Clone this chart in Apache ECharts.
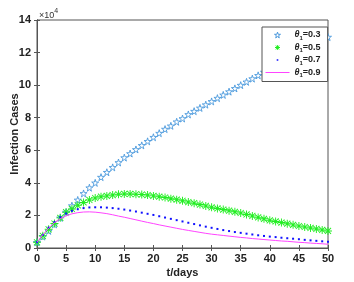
<!DOCTYPE html>
<html><head><meta charset="utf-8">
<script src="https://cdn.jsdelivr.net/npm/echarts@6/dist/echarts.min.js"></script>
<style>html,body{margin:0;padding:0;background:#fff}#c{width:354px;height:282px}</style>
</head><body><div id="c"></div>
<script>
// values in units of 10^4
const days = Array.from({length: 51}, (_, i) => i);
const xTicks = [0,5,10,15,20,25,30,35,40,45,50];
const yTicks = [0,2,4,6,8,10,12,14];
const theta03 = [0.35,0.7,1.05,1.45,1.85,2.2,2.6,2.95,3.35,3.7,4.0,4.35,4.65,4.95,5.25,5.55,5.8,6.05,6.3,6.55,6.8,7.05,7.3,7.5,7.75,7.95,8.2,8.4,8.6,8.8,9.0,9.2,9.4,9.6,9.8,10.0,10.2,10.4,10.6,10.8,11.0,11.2,11.4,11.6,11.8,12.0,12.2,12.4,12.55,12.75,12.95];
const theta05 = [0.35,0.75,1.15,1.5,1.85,2.2,2.4,2.62,2.8,2.95,3.07,3.15,3.2,3.25,3.3,3.32,3.32,3.3,3.28,3.25,3.2,3.15,3.1,3.03,2.97,2.9,2.82,2.75,2.67,2.58,2.5,2.43,2.36,2.29,2.22,2.15,2.06,1.97,1.88,1.79,1.7,1.63,1.56,1.49,1.42,1.35,1.29,1.23,1.17,1.11,1.05];
const theta07 = [0.35,0.8,1.25,1.6,1.9,2.12,2.28,2.38,2.45,2.49,2.5,2.5,2.48,2.45,2.41,2.36,2.3,2.24,2.17,2.1,2.03,1.95,1.87,1.79,1.71,1.63,1.55,1.47,1.39,1.31,1.24,1.17,1.1,1.04,0.98,0.93,0.88,0.83,0.78,0.74,0.7,0.67,0.63,0.6,0.57,0.54,0.5,0.47,0.44,0.41,0.38];
const theta09 = [0.35,0.82,1.22,1.55,1.8,1.98,2.1,2.17,2.21,2.22,2.2,2.16,2.11,2.04,1.96,1.89,1.81,1.73,1.65,1.57,1.5,1.42,1.35,1.28,1.21,1.14,1.08,1.02,0.96,0.9,0.85,0.81,0.77,0.73,0.69,0.65,0.62,0.58,0.55,0.52,0.49,0.46,0.43,0.41,0.38,0.35,0.33,0.3,0.28,0.26,0.23];
const seriesNames = ['θ1=0.3','θ1=0.5','θ1=0.7','θ1=0.9'];
const seriesLabels = ['0.3','0.5','0.7','0.9'];

const STAR = 'path://M50,0 L61,35 L98,35 L68,57 L79,91 L50,70 L21,91 L32,57 L2,35 L39,35 Z';
const AST = 'path://M44,0 H56 V100 H44 Z M0,44 H100 V56 H0 Z M8,16 L16,8 L92,84 L84,92 Z M84,8 L92,16 L16,92 L8,84 Z';
// legend icons: shapes inside a 240x90 box (matches 24x9 legend item); tiny corner specks fix the box
const BOX = 'M0,0 L0.02,0 L0,0.02 Z M240,90 L239.98,90 L240,89.98 Z ';
const L_STAR = 'path://' + BOX + 'M120,16 L127,38 L150,38 L131,52 L138,74 L120,61 L102,74 L109,52 L90,38 L113,38 Z';
const L_AST = 'path://' + BOX + 'M116,20 H124 V70 H116 Z M95,41 H145 V49 H95 Z M99,27 L104,22 L141,63 L136,68 Z M136,22 L141,27 L104,68 L99,63 Z';
const L_DOT = 'path://' + BOX + 'M112,37 H128 V53 H112 Z';
const L_LINE = 'path://' + BOX + 'M0,41 H240 V49 H0 Z';
const pairs = arr => days.map((d, i) => [d, arr[i]]);
const font = '"Liberation Sans", Arial, sans-serif';
const axisCol = '#555';
const magenta = '#ff44ff';

const chart = echarts.init(document.getElementById('c'));
chart.setOption({
  animation: false,
  backgroundColor: '#fff',
  grid: {left: 37, right: 26, top: 20, bottom: 34, show: true, borderColor: axisCol, borderWidth: 1,
    containLabel: false, outerBoundsMode: 'none'},
  xAxis: [{
    type: 'value', min: 0, max: 50, interval: 5,
    name: 't/days', nameLocation: 'middle', nameGap: 19, nameMoveOverlap: false,
    nameTextStyle: {fontFamily: font, fontWeight: 'bold', fontSize: 11, color: '#222'},
    axisLine: {show: true, lineStyle: {color: axisCol}},
    axisTick: {show: true, inside: true, length: 3, lineStyle: {color: axisCol}},
    axisLabel: {fontFamily: font, fontWeight: 'bold', fontSize: 11, color: '#222', margin: 5,
      formatter: v => xTicks.includes(v) ? String(v) : ''},
    splitLine: {show: false}
  }, {
    type: 'value', min: 0, max: 50, interval: 5, position: 'top',
    axisLine: {show: true, lineStyle: {color: axisCol}},
    axisTick: {show: true, inside: true, length: 3, lineStyle: {color: axisCol}},
    axisLabel: {show: false}, splitLine: {show: false}
  }],
  yAxis: [{
    type: 'value', min: 0, max: 14, interval: 2,
    name: 'Infection Cases', nameLocation: 'middle', nameGap: 17, nameMoveOverlap: false,
    nameTextStyle: {fontFamily: font, fontWeight: 'bold', fontSize: 11, color: '#222'},
    axisLine: {show: true, lineStyle: {color: axisCol}},
    axisTick: {show: true, inside: true, length: 3, lineStyle: {color: axisCol}},
    axisLabel: {fontFamily: font, fontWeight: 'bold', fontSize: 11, color: '#222', margin: 6,
      formatter: v => yTicks.includes(v) ? String(v) : ''},
    splitLine: {show: false}
  }, {
    type: 'value', min: 0, max: 14, interval: 2, position: 'right',
    axisLine: {show: true, lineStyle: {color: axisCol}},
    axisTick: {show: true, inside: true, length: 3, lineStyle: {color: axisCol}},
    axisLabel: {show: false}, splitLine: {show: false}
  }],
  graphic: [{
    type: 'text', left: 39, top: 8,
    style: {
      text: '{a|×10}{b|4}',
      rich: {
        a: {fontFamily: font, fontSize: 9, fill: '#333', lineHeight: 12, verticalAlign: 'bottom'},
        b: {fontFamily: font, fontSize: 7, fill: '#333', lineHeight: 12, verticalAlign: 'top'}
      }
    }
  }],
  legend: {
    orient: 'vertical', left: 262, top: 27,
    backgroundColor: '#fff', borderColor: '#555', borderWidth: 1,
    padding: [3, 7, 3, 3], itemGap: 2, itemWidth: 24, itemHeight: 9,
    data: [
      {name: seriesNames[0], icon: L_STAR, itemStyle: {color: '#fff', borderColor: '#4a98dc', borderWidth: 1}},
      {name: seriesNames[1], icon: L_AST, itemStyle: {color: '#22ee22', borderWidth: 0}},
      {name: seriesNames[2], icon: L_DOT, itemStyle: {color: '#1010ff', borderWidth: 0}},
      {name: seriesNames[3], icon: L_LINE, itemStyle: {color: magenta, borderColor: magenta, borderWidth: 0},
        lineStyle: {color: magenta, width: 1}}
    ],
    formatter: name => '{t|θ}{s|1}{n|=' + seriesLabels[seriesNames.indexOf(name)] + '}',
    textStyle: {
      fontFamily: font, color: '#222',
      rich: {
        t: {fontFamily: font, fontStyle: 'italic', fontWeight: 'bold', fontSize: 9, lineHeight: 12},
        s: {fontFamily: font, fontWeight: 'bold', fontSize: 6, lineHeight: 12, verticalAlign: 'bottom', padding: [4, 0, 0, 0]},
        n: {fontFamily: font, fontWeight: 'bold', fontSize: 9, lineHeight: 12}
      }
    }
  },
  series: [{
    name: seriesNames[0], type: 'scatter', data: pairs(theta03),
    symbol: STAR, symbolSize: 7,
    itemStyle: {color: '#fff', borderColor: '#4a98dc', borderWidth: 0.9, opacity: 1}
  }, {
    name: seriesNames[1], type: 'scatter', data: pairs(theta05),
    symbol: AST, symbolSize: 8,
    itemStyle: {color: '#22ee22', borderWidth: 0, opacity: 1}
  }, {
    name: seriesNames[2], type: 'scatter', data: pairs(theta07),
    symbol: 'rect', symbolSize: 2,
    itemStyle: {color: '#1010ff', borderWidth: 0, opacity: 1}
  }, {
    name: seriesNames[3], type: 'line', data: pairs(theta09),
    showSymbol: false, symbol: 'none',
    lineStyle: {width: 1, color: magenta},
    itemStyle: {color: magenta, borderColor: magenta}
  }]
});
</script></body></html>
